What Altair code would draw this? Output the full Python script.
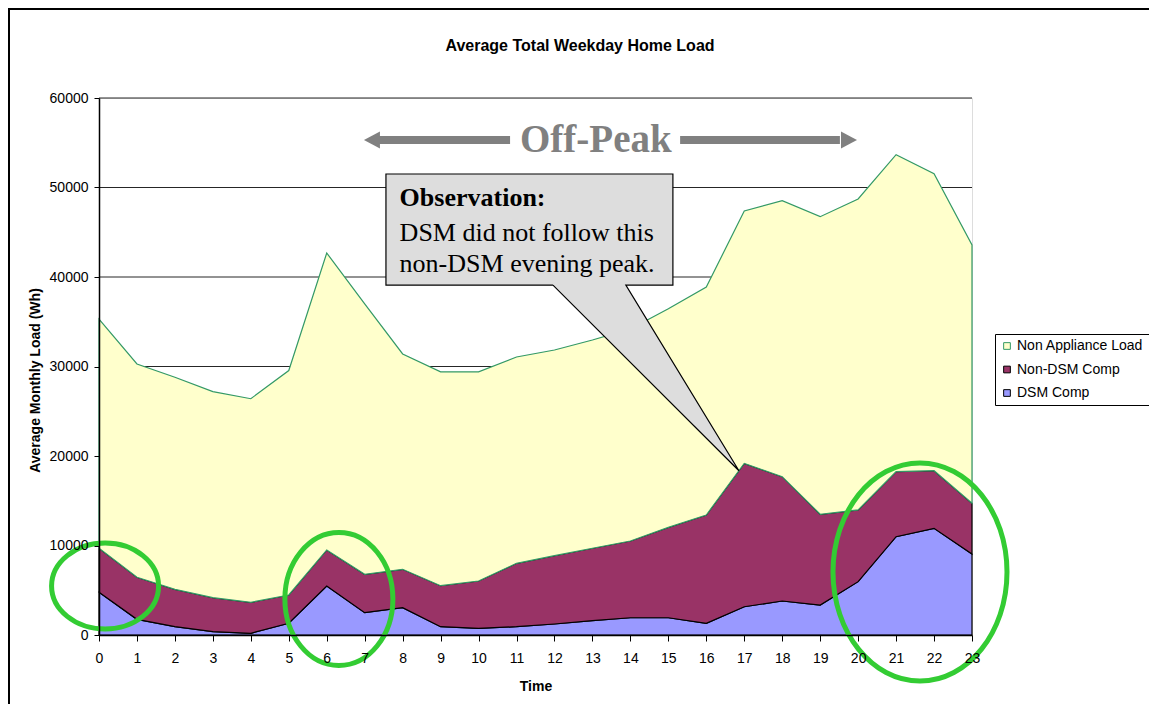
import altair as alt
import pandas as pd

# ---------------- data ----------------
hours = list(range(24))
dsm_comp = [4770, 1750, 930, 370, 190, 1310, 5470, 2490, 3050, 930, 750, 930,
            1230, 1600, 1930, 1930, 1310, 3160, 3800, 3350, 5960, 10980, 11920, 9050]
non_dsm_comp = [4920, 4700, 4170, 3800, 3460, 3160, 4030, 4290, 4290, 4580, 5280, 7080,
                7630, 8090, 8570, 10100, 12100, 16020, 13890, 10140, 8010, 7270, 6440, 5670]
non_appliance_load = [25610, 23830, 23700, 23030, 22750, 25080, 33180, 30220, 24060, 23890, 23370, 23050,
                      22980, 23270, 23700, 24420, 25470, 28190, 30840, 33250, 34750, 35420, 33180, 28860]
series_names = ["Non Appliance Load", "Non-DSM Comp", "DSM Comp"]
stack_rank = {"DSM Comp": 0, "Non-DSM Comp": 1, "Non Appliance Load": 2}
fill_colors = ["#FFFFCC", "#993366", "#9999FF"]
edge_colors = ["#339966", "#000000", "#000000"]
y_ticks = [0, 10000, 20000, 30000, 40000, 50000, 60000]
chart_title = "Average Total Weekday Home Load"

# annotations (data coordinates: hour, Wh)
offpeak_label = "Off-Peak"
offpeak_text_at = [13.09, 53950]
arrow_level = 55310
arrow_shafts_from = [7.38, 15.31]
arrow_shafts_to = [10.83, 19.52]
arrow_tip_left = 6.98
arrow_tip_right = 19.97

box_hours = [7.56, 15.12]
box_vals = [39100, 51510]
tail_hours = [11.96, 13.88, 16.86]
tail_tops = [39100, 39100, 18350]
tail_bottoms = [39100, 30970, 18350]
outline_hours = [11.96, 7.56, 7.56, 15.12, 15.12, 13.88, 16.86, 11.96]
outline_vals = [39100, 39100, 51510, 51510, 39100, 39100, 18350, 39100]
callout_heading = "Observation:"
callout_lines = ["DSM did not follow this", "non-DSM evening peak."]
callout_text_hour = 7.92
callout_baselines = [47930, 44060, 40590]

ellipse_centers_hour = [0.16, 6.32, 21.63]
ellipse_centers_val = [5475, 4022, 7039]
ellipse_radii = [(53.5, 43), (54, 66.5), (87, 109)]

# ---------------- tables ----------------
long = pd.DataFrame({
    "hour": hours * 3,
    "series": ["DSM Comp"] * 24 + ["Non-DSM Comp"] * 24 + ["Non Appliance Load"] * 24,
    "load": dsm_comp + non_dsm_comp + non_appliance_load,
})
long["rank"] = long["series"].map(stack_rank)

grid_df = pd.DataFrame({"val": y_ticks[1:], "hour": [0] * 6, "hour2": [23] * 6})
box_df = pd.DataFrame({"hour": [box_hours[0]], "hour2": [box_hours[1]],
                       "val": [box_vals[0]], "val2": [box_vals[1]]})
tail_df = pd.DataFrame({"hour": tail_hours, "val": tail_tops, "val2": tail_bottoms})
outline_df = pd.DataFrame({"hour": outline_hours, "val": outline_vals, "k": list(range(len(outline_hours)))})
head_df = pd.DataFrame({"hour": [callout_text_hour], "val": [callout_baselines[0]], "t": [callout_heading]})
body_df = pd.DataFrame({"hour": [callout_text_hour] * 2, "val": callout_baselines[1:], "t": callout_lines})
offpeak_df = pd.DataFrame({"hour": [offpeak_text_at[0]], "val": [offpeak_text_at[1]], "t": [offpeak_label]})
shaft_df = pd.DataFrame({"hour": arrow_shafts_from, "hour2": arrow_shafts_to, "val": [arrow_level] * 2})
left_tip_df = pd.DataFrame({"hour": [arrow_tip_left], "val": [arrow_level]})
right_tip_df = pd.DataFrame({"hour": [arrow_tip_right], "val": [arrow_level]})
title_df = pd.DataFrame({"t": [chart_title]})
one_row = pd.DataFrame({"k": [0]})

FONT = "Liberation Sans"
SERIF = "Liberation Serif"

x_scale = alt.Scale(domain=[0, 23], nice=False, zero=False)
y_scale = alt.Scale(domain=[0, 60000], nice=False)
x_axis = alt.Axis(values=hours, grid=False, tickSize=6, labelPadding=10, labelFontSize=14,
                  labelFont=FONT, labelColor="black", tickColor="black", domainColor="black",
                  domainWidth=1.5, labelFlush=False, titleFont=FONT, titleFontSize=14,
                  titleFontWeight="bold", titleColor="black", titleY=55, titleBaseline="alphabetic",
                  zindex=1)
y_axis = alt.Axis(values=y_ticks, format="d", grid=False, tickSize=5, labelPadding=6,
                  labelFontSize=14, labelFont=FONT, labelColor="black", tickColor="black",
                  domainColor="black", domainWidth=1.5, titleFont=FONT, titleFontSize=14,
                  titleFontWeight="bold", titleColor="black", titleAngle=270, titleX=-64,
                  titleY=282, titleAlign="center", titleBaseline="middle", zindex=1)

X = alt.X("hour:Q", scale=x_scale, axis=x_axis, title="Time")
Y = alt.Y("val:Q", scale=y_scale, axis=y_axis, title="Average Monthly Load (Wh)")

legend = alt.Legend(title=None, orient="none", legendX=896, legendY=236, symbolType="square",
                    symbolSize=45, symbolStrokeWidth=1, labelFont=FONT, labelFontSize=14,
                    labelColor="black", padding=5, rowPadding=9.5, labelOffset=3,
                    strokeColor="black", fillColor="white")
color_enc = alt.Color("series:N", scale=alt.Scale(domain=series_names, range=fill_colors), legend=legend)
stroke_enc = alt.Stroke("series:N", scale=alt.Scale(domain=series_names, range=edge_colors), legend=legend)

grid = alt.Chart(grid_df).mark_rule(color="#262626", strokeWidth=1).encode(x=X, x2="hour2:Q", y=Y)

stacked = alt.Chart(long).transform_stack(
    stack="load", as_=["val2", "val"], groupby=["hour"], sort=[alt.SortField("rank", order="ascending")]
)
areas = []
for name in ["DSM Comp", "Non-DSM Comp", "Non Appliance Load"]:
    areas.append(
        stacked.transform_filter(alt.datum.series == name)
        .mark_area(opacity=1, strokeWidth=1.2, interpolate="linear")
        .encode(x=X, y=Y, y2="val2:Q", color=color_enc, stroke=stroke_enc)
    )

box = alt.Chart(box_df).mark_rect(fill="#DDDDDD").encode(x=X, x2="hour2:Q", y=Y, y2="val2:Q")
tail = alt.Chart(tail_df).mark_area(fill="#DDDDDD", opacity=1).encode(x=X, y=Y, y2="val2:Q")
outline = alt.Chart(outline_df).mark_line(color="black", strokeWidth=1.2).encode(
    x=X, y=Y, order=alt.Order("k:Q"))
head_txt = alt.Chart(head_df).mark_text(font=SERIF, fontSize=26, fontWeight="bold", align="left",
                                        baseline="alphabetic", color="black").encode(x=X, y=Y, text="t:N")
body_txt = alt.Chart(body_df).mark_text(font=SERIF, fontSize=26, align="left",
                                        baseline="alphabetic", color="black").encode(x=X, y=Y, text="t:N")

offpeak = alt.Chart(offpeak_df).mark_text(font=SERIF, fontSize=39, fontWeight="bold", align="center",
                                          baseline="alphabetic", color="#808080").encode(x=X, y=Y, text="t:N")
shafts = alt.Chart(shaft_df).mark_rule(color="#808080", strokeWidth=8).encode(x=X, x2="hour2:Q", y=Y)
left_head = alt.Chart(left_tip_df).mark_point(shape="M 0 0 L 16 -8.5 L 16 8.5 Z", size=4, filled=True,
                                              color="#808080", opacity=1, strokeWidth=0).encode(x=X, y=Y)
right_head = alt.Chart(right_tip_df).mark_point(shape="M 0 0 L -16 -8.5 L -16 8.5 Z", size=4, filled=True,
                                                color="#808080", opacity=1, strokeWidth=0).encode(x=X, y=Y)

ellipses = []
for hx, vy, (rx, ry) in zip(ellipse_centers_hour, ellipse_centers_val, ellipse_radii):
    path = f"M {-rx} 0 A {rx} {ry} 0 1 0 {rx} 0 A {rx} {ry} 0 1 0 {-rx} 0 Z"
    ellipses.append(
        alt.Chart(pd.DataFrame({"hour": [hx], "val": [vy]}))
        .mark_point(shape=path, size=4, filled=False, color="#33CC33", strokeWidth=5, opacity=1)
        .encode(x=X, y=Y)
    )

title_txt = alt.Chart(title_df).mark_text(font=FONT, fontSize=16, fontWeight="bold", align="center",
                                          baseline="alphabetic", color="black").encode(
    x=alt.value(481), y=alt.value(-47), text="t:N")

frame_top = alt.Chart(one_row).mark_rule(color="black", strokeWidth=2).encode(
    x=alt.value(-91), x2=alt.value(1060), y=alt.value(-89))
frame_left = alt.Chart(one_row).mark_rule(color="black", strokeWidth=2).encode(
    x=alt.value(-90), y=alt.value(-90), y2=alt.value(620))

chart = alt.layer(
    grid, *areas, box, tail, outline, head_txt, body_txt, offpeak, shafts, left_head, right_head,
    *ellipses, title_txt, frame_top, frame_left
).properties(
    width=873, height=537,
    padding={"left": 91, "top": 90, "right": 177, "bottom": 69},
    autosize=alt.AutoSizeParams(type="none"),
).configure_view(stroke=None).configure(background="white")

chart.save("out.html", embed_options={"renderer": "svg", "actions": False})
